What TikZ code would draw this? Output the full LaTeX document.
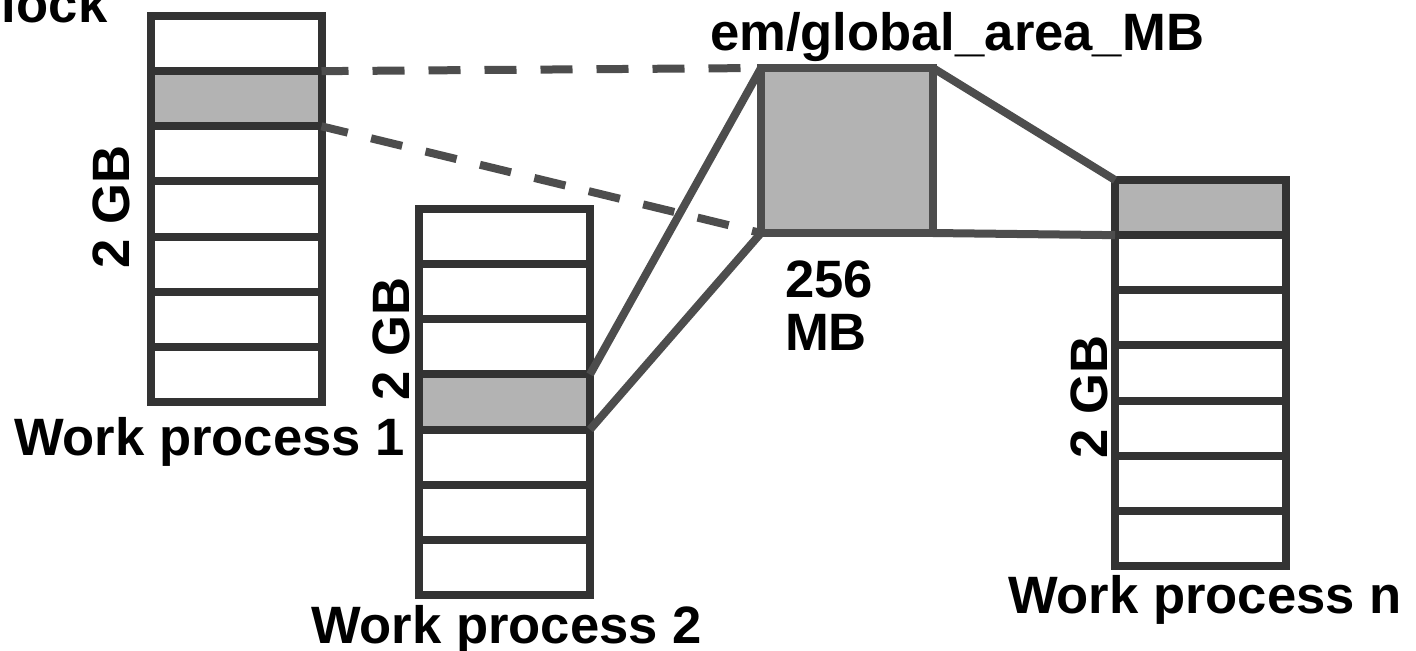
\documentclass[tikz,border=0pt]{standalone}
\usepackage{fontspec}
\setmainfont{Liberation Sans}
\usepackage{tikz}
\usetikzlibrary{positioning}
\definecolor{cellline}{HTML}{333333}
\definecolor{linkline}{HTML}{4D4D4D}
\definecolor{shade}{HTML}{B3B3B3}

\begin{document}
\begin{tikzpicture}[x=0.5pt,y=-0.5pt,line width=4pt,font=\fontsize{26.3}{26.5}\selectfont\bfseries]
\tikzstyle{cell} = [rectangle, draw=cellline, minimum width=85.5pt, minimum height=27.57pt, inner sep=0pt, outer sep=0pt]
\tikzstyle{link} = [draw=linkline, line width=4pt]
\tikzstyle{gap} = [link, dash pattern=on 16pt off 12pt, dash phase=2.5pt]
\tikzstyle{capt} = [inner sep=0pt, anchor=base west]

\useasboundingbox (0,0) rectangle (1416,650);

% work process columns
\foreach \i/\f in {1/white,2/shade,3/white,4/white,5/white,6/white,7/white}
    \node (a\i) at (236,{16+55.14*(\i-0.5)}) [cell, fill=\f] {};
\foreach \i/\f in {1/white,2/white,3/white,4/shade,5/white,6/white,7/white}
    \node (b\i) at (504.5,{209+55.14*(\i-0.5)}) [cell, fill=\f] {};
\foreach \i/\f in {1/shade,2/white,3/white,4/white,5/white,6/white,7/white}
    \node (c\i) at (1200.5,{180+55.14*(\i-0.5)}) [cell, fill=\f] {};

% global area
\node (ga) at (847,150.5) [rectangle, draw=linkline, fill=shade, minimum width=86pt, minimum height=82.5pt, inner sep=0pt, outer sep=0pt] {};

\draw [gap] (a2.north east) -- (ga.north west);
\draw [gap] (a2.south east) -- (ga.south west);
\draw [link] (b4.north east) -- (ga.north west);
\draw [link] (b4.south east) -- (ga.south west);
\draw [link] (ga.north east) -- (c1.north west);
\draw [link] (ga.south east) -- (c1.south west);

\node (blk) at (-2,22) [capt] {lock};
\node (gname) at (706,50) [capt] {em/global\_area\_MB};
\node (size) at (781,257) [inner sep=0pt, anchor=north west, align=left] {256\\MB};
\node (w1) at (10,455) [capt] {Work process 1};
\node (w2) at (307,643) [capt] {Work process 2};
\node (wn) at (1004,613) [capt] {Work process n};
\node (s1) at (129,272) [capt, rotate=90] {2 GB};
\node (s2) at (409,404) [capt, rotate=90] {2 GB};
\node (sn) at (1107,462) [capt, rotate=90] {2 GB};

\end{tikzpicture}
\end{document}
